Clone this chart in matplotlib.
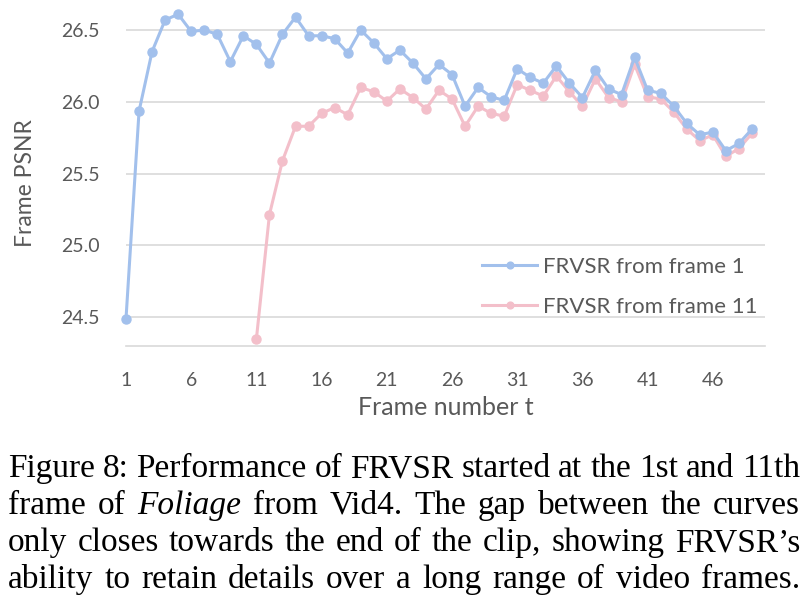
import numpy as np
from matplotlib import pyplot as plt

frames_blue = list(range(1, 50))
psnr_blue = [24.49, 25.935, 26.35, 26.57, 26.61, 26.49, 26.50, 26.47, 26.28, 26.46,
             26.40, 26.27, 26.47, 26.59, 26.46, 26.46, 26.44, 26.34, 26.50, 26.41,
             26.30, 26.36, 26.27, 26.16, 26.26, 26.19, 25.97, 26.10, 26.035, 26.01,
             26.23, 26.17, 26.13, 26.25, 26.13, 26.03, 26.22, 26.09, 26.05, 26.31,
             26.08, 26.06, 25.97, 25.85, 25.77, 25.79, 25.66, 25.71, 25.81]

frames_red = list(range(11, 50))
psnr_red = [24.35, 25.215, 25.59, 25.83, 25.83, 25.92, 25.96, 25.91, 26.10, 26.07,
            26.005, 26.09, 26.03, 25.95, 26.08, 26.02, 25.83, 25.97, 25.92, 25.90,
            26.12, 26.08, 26.04, 26.18, 26.07, 25.97, 26.16, 26.03, 26.00, 26.26,
            26.035, 26.02, 25.93, 25.81, 25.73, 25.77, 25.62, 25.675, 25.78]

labels = ['FRVSR from frame 1', 'FRVSR from frame 11']
xticks = [1, 6, 11, 16, 21, 26, 31, 36, 41, 46]
yticks = [24.5, 25.0, 25.5, 26.0, 26.5]

caption = [
    [('Figure', 'normal'), ('8:', 'normal'), ('Performance', 'normal'), ('of', 'normal'),
     ('FRVSR', 'normal'), ('started', 'normal'), ('at', 'normal'), ('the', 'normal'),
     ('1st', 'normal'), ('and', 'normal'), ('11th', 'normal')],
    [('frame', 'normal'), ('of', 'normal'), ('Foliage', 'italic'), ('from', 'normal'),
     ('Vid4.', 'normal'), ('The', 'normal'), ('gap', 'normal'), ('between', 'normal'),
     ('the', 'normal'), ('curves', 'normal')],
    [('only', 'normal'), ('closes', 'normal'), ('towards', 'normal'), ('the', 'normal'),
     ('end', 'normal'), ('of', 'normal'), ('the', 'normal'), ('clip,', 'normal'),
     ('showing', 'normal'), ('FRVSR\u2019s', 'normal')],
    [('ability', 'normal'), ('to', 'normal'), ('retain', 'normal'), ('details', 'normal'),
     ('over', 'normal'), ('a', 'normal'), ('long', 'normal'), ('range', 'normal'),
     ('of', 'normal'), ('video', 'normal'), ('frames.', 'normal')],
]

W, H = 809, 610
fig = plt.figure(figsize=(W / 100, H / 100), dpi=100)
ax = fig.add_axes([126 / W, 1 - 346 / H, (765 - 126) / W, (346 - 1.3) / H])

blue = '#a2c0ec'
pink = '#f3bfca'
grid = '#d9d9d9'
txt = '#595959'

ax.plot(frames_blue, psnr_blue, color=blue, lw=2.2, marker='o', ms=6.5,
        label=labels[0], zorder=3, clip_on=False)
ax.plot(frames_red, psnr_red, color=pink, lw=2.2, marker='o', ms=6.5,
        label=labels[1], zorder=2, clip_on=False)

ax.set_xlim(1, 50)
ax.set_ylim(24.3, 26.7)
ax.set_xticks(xticks)
ax.set_yticks(yticks)
ax.set_yticklabels(['%.1f' % v for v in yticks])
for y in yticks:
    ax.axhline(y, color=grid, lw=1.2, zorder=1)

for s in ['top', 'right', 'left']:
    ax.spines[s].set_visible(False)
ax.spines['bottom'].set_color(grid)
ax.spines['bottom'].set_linewidth(1.2)
ax.tick_params(axis='both', length=0, labelsize=14, labelcolor=txt)
ax.tick_params(axis='x', pad=18.5)
ax.tick_params(axis='y', pad=19)
for lab in ax.get_xticklabels() + ax.get_yticklabels():
    lab.set_fontfamily('Lato')

ax.set_xlabel('Frame number t', fontsize=18, color=txt, family='Lato', labelpad=5)
ax.set_ylabel('Frame PSNR', fontsize=16.5, color=txt, family='Lato')
ax.yaxis.set_label_coords(-0.141, 0.473)

leg = ax.legend(loc='center left', bbox_to_anchor=(0.557, 0.172), frameon=False,
                borderpad=0, borderaxespad=0, handlelength=2.5, handletextpad=0.25,
                labelspacing=0.9, markerscale=0.75, prop={'family': 'Lato', 'size': 16})
for t in leg.get_texts():
    t.set_color(txt)

# caption, justified word by word
renderer = fig.canvas.get_renderer()
x0, x1 = 8, 800
baselines = [477, 514, 551, 588]
for words, yb in zip(caption, baselines):
    items = []
    for w, style in words:
        t = fig.text(0, 1 - yb / H, w, fontsize=24, family='Liberation Serif',
                     style=style, color='black', va='baseline', ha='left')
        items.append(t)
    widths = [t.get_window_extent(renderer).width for t in items]
    gap = (x1 - x0 - sum(widths)) / (len(items) - 1)
    x = x0
    for t, w in zip(items, widths):
        t.set_x(x / W)
        x += w + gap

fig.savefig('out.png', dpi=100)
